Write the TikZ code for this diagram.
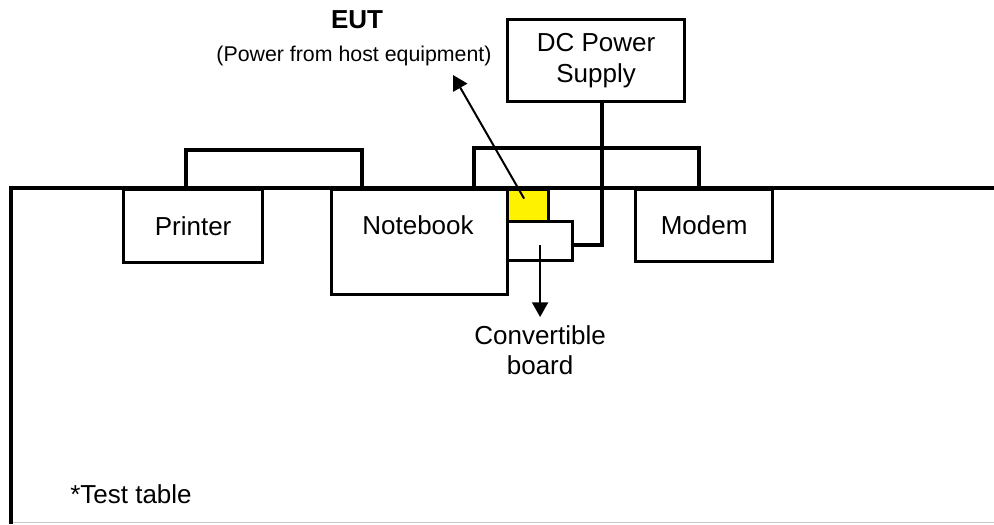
\documentclass[tikz,border=0pt]{standalone}
\usepackage{fontspec}
\setmainfont{Liberation Sans}
\usetikzlibrary{arrows.meta}
\begin{document}
\begin{tikzpicture}[x=0.75pt,y=-0.75pt,
  line width=2.4pt, line join=miter,
  box/.style={draw, line width=2.4pt, inner sep=0pt, anchor=north west, align=center,
    font=\fontsize{19.5}{23.5}\selectfont},
  lbl/.style={inner sep=0pt, align=center, font=\fontsize{19.5}{22.5}\selectfont},
  small/.style={inner sep=0pt, font=\fontsize{16}{19}\selectfont},
  arr/.style={line width=1.5pt, -{Triangle[length=11pt,width=12pt]}},
  cable/.style={line width=2.4pt, line join=miter}]
\useasboundingbox (0,0) rectangle (994,524);
% test table
\coordinate (tr) at (994,188);
\coordinate (tl) at (11,188);
\coordinate (bl) at (11,524);
\draw[line width=0.8pt, gray!45] (11,522.8) -- (994,522.8);
\draw (tr) -- (tl) -- (bl);
% equipment
\node[box, minimum width={139*0.75pt}, minimum height={73*0.75pt}] (printer) at (122,188) {Printer};
\node[box, minimum width={176*0.75pt}, minimum height={105*0.75pt}] (notebook) at (330,188) {};
\node[lbl, anchor=base] (notebooktext) at (418,234) {Notebook};
\node[box, minimum width={137*0.75pt}, minimum height={72*0.75pt}] (modem) at (634,188) {Modem};
\node[box, minimum width={177*0.75pt}, minimum height={82*0.75pt}] (dc) at (506,18) {DC Power\\Supply};
\node[box, fill=yellow, minimum width={41*0.75pt}, minimum height={32*0.75pt}] (eut) at (506,188) {};
\node[box, minimum width={65*0.75pt}, minimum height={39*0.75pt}] (board) at (506,220) {};
% cables
\draw[cable] (printer.north -| 186,0) -- ++(0,-38) -| (notebook.north -| 362,0);
\draw[cable] (notebook.north -| 474,0) -- ++(0,-40) -| (modem.north -| 699,0);
\draw[cable] (dc.south -| 602,0) |- (board.east |- 0,245);
% labels
\node[lbl, anchor=base, font=\fontsize{19.5}{22.5}\bfseries] (euttitle) at (357,29) {EUT};
\node[small, anchor=base] (eutnote) at (354,62) {(Power from host equipment)};
\coordinate (eutpoint) at (453,75);
\draw[arr] ([shift={(-4,-7)}]eut.center) -- (eutpoint);
\node[lbl, anchor=north] (conv) at (board.center |- 0,324) {Convertible\\board};
\coordinate (convtip) at (board.center |- 0,317);
\draw[arr] (board.center |- 0,245) -- (convtip);
\node[lbl, anchor=base] (testtable) at (131,503) {*Test table};
\end{tikzpicture}
\end{document}
